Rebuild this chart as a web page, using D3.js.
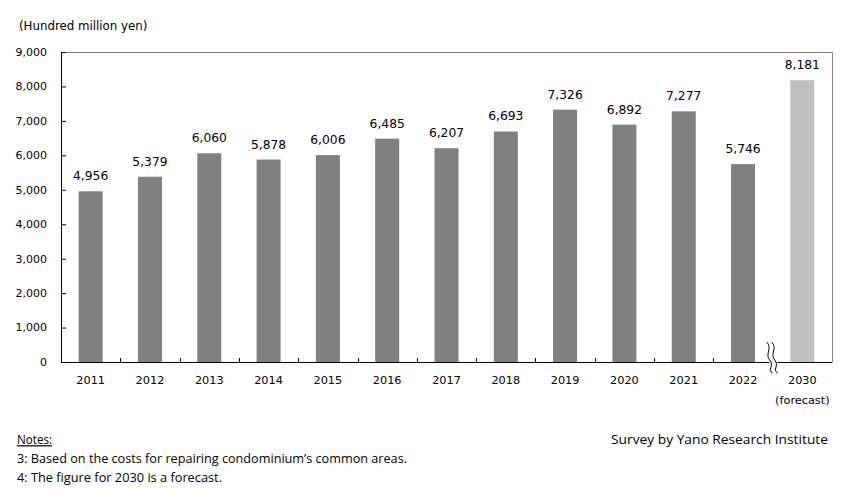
<!DOCTYPE html>
<html><head><meta charset="utf-8">
<script src="https://cdn.jsdelivr.net/npm/d3@7"></script>
<style>body{margin:0;background:#fff}svg{display:block}</style>
</head><body>
<script>
const categories = ["2011","2012","2013","2014","2015","2016","2017","2018","2019","2020","2021","2022","2030"];
const values = [4956,5379,6060,5878,6006,6485,6207,6693,7326,6892,7277,5746,8181];
const forecast = [false,false,false,false,false,false,false,false,false,false,false,false,true];
const yTicks = [0,1000,2000,3000,4000,5000,6000,7000,8000,9000];
const unitLabel = "(Hundred million yen)";
const notesTitle = "Notes:";
const notes = ["3: Based on the  costs for repairing condominium\u2019s common areas.","4: The figure for 2030 is a forecast."];
const source = "Survey by Yano Research Institute";

const W = 859, H = 491;
const L = 61, R = 832, T = 52, B = 362;
const svg = d3.select("body").append("svg").attr("width", W).attr("height", H);
const font = "'DejaVu Sans', Verdana, sans-serif";

const x = d3.scaleBand().domain(categories).range([L, R]).padding(0);
const y = d3.scaleLinear().domain([0, 9000]).range([B, T]);
const barW = 24;

// frame (top & right)
svg.append("path").attr("d", `M${L},${T}H${R}V${B}`).attr("fill","none").attr("stroke","#808080").attr("stroke-width",1).attr("transform","translate(0.5,0.5)");

// bars
svg.selectAll("rect.bar").data(values).join("rect")
  .attr("x", (d,i) => x(categories[i]) + x.bandwidth()/2 - barW/2)
  .attr("y", d => y(d))
  .attr("width", barW)
  .attr("height", d => B - y(d))
  .attr("fill", (d,i) => forecast[i] ? "#bfbfbf" : "#808080");

// value labels
svg.selectAll("text.val").data(values).join("text")
  .attr("x", (d,i) => x(categories[i]) + x.bandwidth()/2)
  .attr("y", d => y(d) - 11)
  .attr("text-anchor","middle")
  .attr("font-family", font).attr("font-size", 12.3).attr("fill","#000")
  .text(d => d3.format(",")(d));

// y axis
const yAxis = d3.axisRight(y).tickValues(yTicks).tickSize(5).tickFormat("");
const ya = svg.append("g").attr("transform", `translate(${L},0)`).call(yAxis);
ya.select(".domain").attr("stroke","#000").attr("d", `M0.5,${T}V${B}`);
ya.selectAll(".tick line").attr("stroke","#000");
svg.selectAll("text.yt").data(yTicks).join("text")
  .attr("x", 47).attr("y", d => y(d)).attr("dy","0.35em")
  .attr("text-anchor","end").attr("font-family", font).attr("font-size", 11).attr("fill","#000")
  .text(d => d3.format(",")(d));

// x axis line
const brk = x("2030");
svg.append("path").attr("d", `M${L},${B+0.5}H${R}`).attr("stroke","#000").attr("stroke-width",1);
// x ticks at category boundaries (upward)
const bounds = categories.slice(1).map(c => x(c)).filter(v => Math.abs(v - brk) > 1);
svg.selectAll("line.xt").data(bounds).join("line")
  .attr("x1", d => Math.round(d)+0.5).attr("x2", d => Math.round(d)+0.5)
  .attr("y1", B).attr("y2", B-4).attr("stroke","#000");

// axis break marker
const wave = (dx) => {
  const p = d3.path();
  const cx = brk + dx;
  p.moveTo(cx-4, B-20);
  p.bezierCurveTo(cx+2, B-14, cx-6, B-8, cx-1, B-2);
  p.bezierCurveTo(cx+4, B+4, cx-4, B+8, cx+2, B+11);
  return p.toString();
};
svg.append("path").attr("d", `M${brk-3.5},${B-3}L${brk+4.5},${B-3}L${brk+4.5},${B+3}L${brk-3.5},${B+3}Z`).attr("fill","#fff");
svg.append("path").attr("d", wave(-2)).attr("fill","none").attr("stroke","#000").attr("stroke-width",1);
svg.append("path").attr("d", wave(3)).attr("fill","none").attr("stroke","#000").attr("stroke-width",1);

// x labels
svg.selectAll("text.xl").data(categories).join("text")
  .attr("x", d => x(d) + x.bandwidth()/2).attr("y", 380).attr("dy","0.35em")
  .attr("text-anchor","middle").attr("font-family", font).attr("font-size", 11.3).attr("fill","#000")
  .text(d => d);
svg.append("text").attr("x", x("2030") + x.bandwidth()/2).attr("y", 400).attr("dy","0.35em")
  .attr("text-anchor","middle").attr("font-family", font).attr("font-size", 11.3).attr("fill","#000")
  .text("(forecast)");

// unit label
svg.append("text").attr("x", 19).attr("y", 26).attr("dy","0.35em")
  .attr("font-family", font).attr("font-size", 11.8).attr("fill","#000").text(unitLabel);

// notes
const nf = "'Open Sans', 'Liberation Sans', Arial, sans-serif";
svg.append("text").attr("x", 17).attr("y", 440).attr("dy","0.35em")
  .attr("font-family", nf).attr("font-size", 12).attr("fill","#000")
  .attr("textLength", 35).attr("lengthAdjust","spacingAndGlyphs")
  .attr("text-decoration","underline").text(notesTitle);
const noteW = [390, 205];
svg.selectAll("text.note").data(notes).join("text")
  .attr("x", 17).attr("y", (d,i) => 458.5 + i*19).attr("dy","0.35em")
  .attr("font-family", nf).attr("font-size", 12).attr("fill","#000")
  .attr("textLength", (d,i) => noteW[i]).attr("lengthAdjust","spacingAndGlyphs")
  .text(d => d);
svg.append("text").attr("x", 611).attr("y", 440).attr("dy","0.35em")
  .attr("font-family", nf).attr("font-size", 12.8).attr("fill","#000")
  .attr("textLength", 217).attr("lengthAdjust","spacingAndGlyphs").text(source);
</script>
</body></html>
